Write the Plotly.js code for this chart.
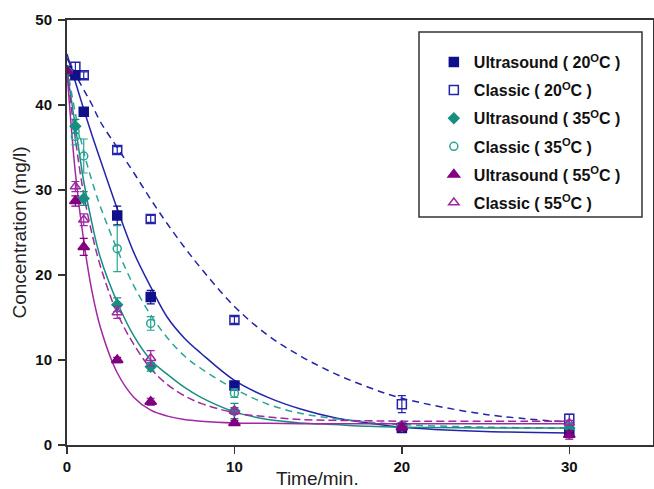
<!DOCTYPE html>
<html>
<head>
<meta charset="utf-8">
<script src="https://cdn.plot.ly/plotly-3.0.1.min.js"></script>
<style>
  html, body { margin: 0; padding: 0; background: #fff; }
  #chart { width: 654px; height: 489px; }
</style>
</head>
<body>
<div id="chart"></div>
<script>
// Sampling times (min)
const time = [0, 0.5, 1, 3, 5, 10, 20, 30];

// Measured concentrations (mg/l) and their error bars
const us20 = [44, 43.5, 39.2, 27.0, 17.4, 7.0, 2.0, 1.5];
const us20Err = [0, 0.4, 0.5, 1.1, 0.8, 0.4, 0.3, 0.3];
const cl20 = [44, 44.5, 43.5, 34.7, 26.6, 14.7, 4.8, 3.1];
const cl20Err = [0, 0.5, 0.4, 0.4, 0.4, 0.4, 1.0, 0.5];
const us35 = [44, 37.5, 29.0, 16.5, 9.2, 4.0, 2.2, 2.0];
const us35Err = [0, 0.8, 0.8, 0.8, 0.5, 0.9, 0.3, 0.3];
const cl35 = [44, 36.3, 34.0, 23.1, 14.3, 6.1, 2.3, 2.2];
const cl35Err = [0, 1.0, 2.0, 2.7, 0.8, 0.5, 0.3, 0.3];
const us55 = [44, 28.7, 23.3, 10.0, 5.1, 2.6, 2.1, 1.2];
const us55Err = [0, 0.6, 1.0, 0.3, 0.4, 0.3, 0.4, 0.5];
const cl55 = [44, 30.4, 26.5, 15.6, 10.2, 4.0, 2.3, 2.6];
const cl55Err = [0, 0.6, 0.7, 0.7, 0.9, 0.4, 0.3, 0.3];

// Fitted decay curves, sampled along a common time grid
const fitTime = [0, 0.5, 1, 1.5, 2, 3, 4, 5, 6, 7, 8, 10, 12, 14, 16, 18, 20, 25, 30];
const us20Fit = [46, 42.7, 39.5, 36.4, 33.5, 27.8, 22.6, 18.6, 15.0, 12.6, 10.8, 7.6, 5.6, 4.2, 3.2, 2.6, 2.1, 1.6, 1.4];
const cl20Fit = [45.5, 43.6, 41.8, 40.0, 38.0, 35.0, 32.0, 28.9, 26.0, 23.3, 20.8, 16.3, 12.9, 10.4, 8.4, 6.8, 5.5, 3.6, 2.7];
const us35Fit = [44, 37.5, 31.0, 26.0, 22.0, 16.8, 12.8, 10.0, 8.3, 6.8, 5.6, 3.9, 3.0, 2.6, 2.4, 2.2, 2.1, 2.0, 2.0];
const cl35Fit = [44.5, 39.0, 34.5, 31.0, 28.0, 23.0, 18.7, 15.3, 12.6, 10.5, 9.0, 6.6, 4.8, 3.7, 3.1, 2.7, 2.4, 2.1, 2.0];
const us55Fit = [44, 32.0, 24.0, 18.0, 13.8, 8.5, 5.6, 4.1, 3.4, 3.0, 2.8, 2.6, 2.55, 2.5, 2.5, 2.5, 2.5, 2.5, 2.5];
const cl55Fit = [44, 36.0, 29.5, 24.8, 21.0, 15.5, 11.8, 9.0, 7.1, 5.8, 4.9, 3.8, 3.3, 3.0, 2.9, 2.85, 2.8, 2.8, 2.8];

// Legend labels
const labels = [
  'Ultrasound ( 20<sup>O</sup>C )',
  'Classic ( 20<sup>O</sup>C )',
  'Ultrasound ( 35<sup>O</sup>C )',
  'Classic ( 35<sup>O</sup>C )',
  'Ultrasound ( 55<sup>O</sup>C )',
  'Classic ( 55<sup>O</sup>C )'
];

const NAVY = '#10108a', NAVY_L = '#2424aa';
const TEAL = '#178f80', TEAL_L = '#2aa595';
const PURP = '#800080', PURP_L = '#a028a0';
const FONT = 'Liberation Sans, Arial, sans-serif';

function curve(y, color, dash) {
  return {
    x: fitTime, y: y, type: 'scatter', mode: 'lines',
    line: { color: color, width: 1.5, dash: dash, shape: 'spline', smoothing: 1 },
    hoverinfo: 'skip', showlegend: false
  };
}

function points(y, err, name, symbol, color, size, rank) {
  return {
    x: time, y: y, type: 'scatter', mode: 'markers', name: '<b>' + name + '</b>',
    legendgroup: 'g' + rank, legendrank: rank,
    marker: { symbol: symbol, size: size, color: color, line: { color: color, width: 1.5 } },
    error_y: { type: 'data', array: err, visible: true, color: color, thickness: 1.2, width: 4 }
  };
}

const traces = [
  curve(cl20Fit, NAVY_L, '7px,5px'),
  curve(us20Fit, NAVY_L, 'solid'),
  curve(cl35Fit, TEAL_L, '7px,5px'),
  curve(us35Fit, TEAL, 'solid'),
  curve(cl55Fit, PURP_L, '8px,4px'),
  curve(us55Fit, PURP_L, 'solid'),
  points(cl20, cl20Err, labels[1], 'square-open', NAVY_L, 9, 2),
  points(us20, us20Err, labels[0], 'square', NAVY, 9, 1),
  points(cl35, cl35Err, labels[3], 'circle-open', TEAL_L, 8, 4),
  points(us35, us35Err, labels[2], 'diamond', TEAL, 8, 3),
  points(cl55, cl55Err, labels[5], 'triangle-up-open', PURP_L, 9, 6),
  points(us55, us55Err, labels[4], 'triangle-up', PURP, 10, 5)
];

const tickFont = { family: FONT, size: 15, color: '#111', weight: 'bold' };
const titleFont = { family: FONT, size: 19, color: '#222' };

const layout = {
  width: 654, height: 489,
  margin: { l: 67, r: 1, t: 20, b: 44 },
  paper_bgcolor: '#fff', plot_bgcolor: '#fff',
  showlegend: true,
  legend: {
    x: 0.626, y: 0.941, xanchor: 'left', yanchor: 'top',
    bgcolor: 'rgba(0,0,0,0)', borderwidth: 0,
    traceorder: 'grouped', tracegroupgap: 4.3,
    font: { family: FONT, size: 16, color: '#111' }
  },
  xaxis: {
    range: [0, 35], tickvals: [0, 10, 20, 30], ticks: 'outside', ticklen: 7, tickwidth: 1.5,
    tickcolor: '#333', showgrid: false, zeroline: false,
    showline: true, linecolor: '#333', linewidth: 2, mirror: true,
    tickfont: tickFont, ticklabelstandoff: 0
  },
  yaxis: {
    range: [0, 50], tickvals: [0, 10, 20, 30, 40, 50], ticks: 'outside', ticklen: 7, tickwidth: 1.5,
    tickcolor: '#333', showgrid: false, zeroline: false,
    showline: true, linecolor: '#333', linewidth: 2, mirror: true,
    tickfont: tickFont, ticklabelstandoff: 3,
    title: { text: 'Concentration (mg/l)', standoff: 4, font: titleFont }
  },
  shapes: [{
    type: 'rect', xref: 'paper', yref: 'paper',
    x0: 0.6007, x1: 0.9812, y0: 0.5365, y1: 0.9718,
    line: { color: '#333', width: 1.5 }, fillcolor: 'rgba(0,0,0,0)'
  }],
  annotations: [{
    text: 'Time/min.', xref: 'paper', yref: 'paper', x: 0.428, y: -0.078,
    xanchor: 'center', yanchor: 'middle', showarrow: false,
    font: titleFont
  }]
};

Plotly.newPlot('chart', traces, layout, { staticPlot: true, displayModeBar: false });
</script>
</body>
</html>
